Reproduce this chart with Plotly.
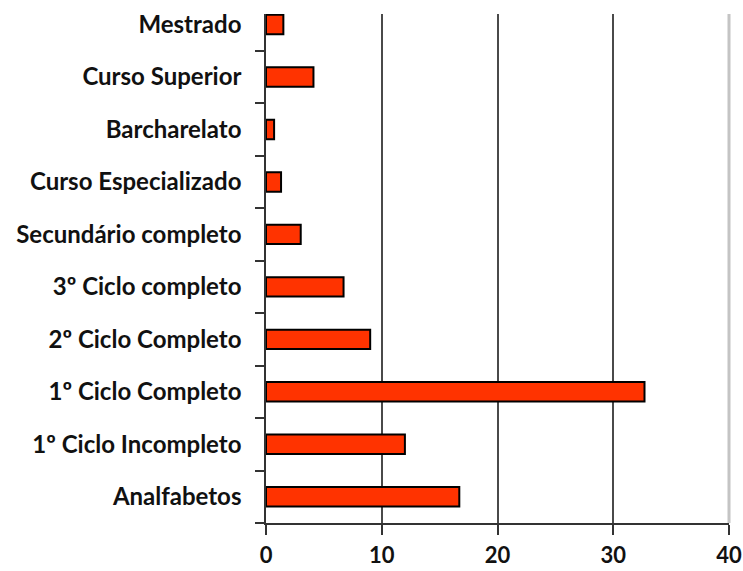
import plotly.graph_objects as go

# Education level distribution (%), listed bottom to top
categories = [
    "Analfabetos",
    "1º Ciclo Incompleto",
    "1º Ciclo Completo",
    "2º Ciclo Completo",
    "3º Ciclo completo",
    "Secundário completo",
    "Curso Especializado",
    "Barcharelato",
    "Curso Superior",
    "Mestrado",
]
values = [16.7, 12.0, 32.7, 9.0, 6.7, 3.0, 1.3, 0.7, 4.1, 1.5]
x_ticks = [0, 10, 20, 30, 40]

FONT = "Lato"

fig = go.Figure(
    go.Bar(
        x=values,
        y=categories,
        orientation="h",
        width=0.37,
        marker=dict(color="#FF3300", line=dict(color="#000000", width=2)),
        hoverinfo="x+y",
    )
)

fig.update_layout(
    width=743,
    height=571,
    margin=dict(l=266, r=14, t=14, b=48),
    paper_bgcolor="white",
    plot_bgcolor="white",
    showlegend=False,
    font=dict(family=FONT, color="#111111"),
)

fig.update_xaxes(
    range=[0, 40],
    tickvals=x_ticks,
    ticktext=[str(v) for v in x_ticks],
    showgrid=True,
    gridcolor="#4a4a4a",
    gridwidth=1.5,
    zeroline=False,
    showline=True,
    linecolor="#333333",
    linewidth=1.5,
    ticks="outside",
    ticklen=10,
    tickwidth=1.5,
    tickcolor="#333333",
    tickfont=dict(family=FONT, size=22, color="#111111", weight="bold"),
    ticklabelstandoff=2,
    automargin=False,
    fixedrange=True,
)

fig.update_yaxes(
    type="category",
    categoryorder="array",
    categoryarray=categories,
    range=[-0.5, 9.2],
    showgrid=False,
    zeroline=False,
    showline=True,
    linecolor="#333333",
    linewidth=1.5,
    ticks="outside",
    tickson="boundaries",
    ticklen=9,
    tickwidth=1.5,
    tickcolor="#333333",
    tickfont=dict(family=FONT, size=24, color="#111111", weight="bold"),
    ticklabelstandoff=18,
    automargin=False,
    fixedrange=True,
)

# Light plot-area border on the right edge
fig.add_shape(
    type="line",
    xref="paper", yref="paper",
    x0=1, x1=1, y0=0, y1=1,
    line=dict(color="#c4c4c4", width=3),
    layer="above",
)

fig.write_html("out.html")
